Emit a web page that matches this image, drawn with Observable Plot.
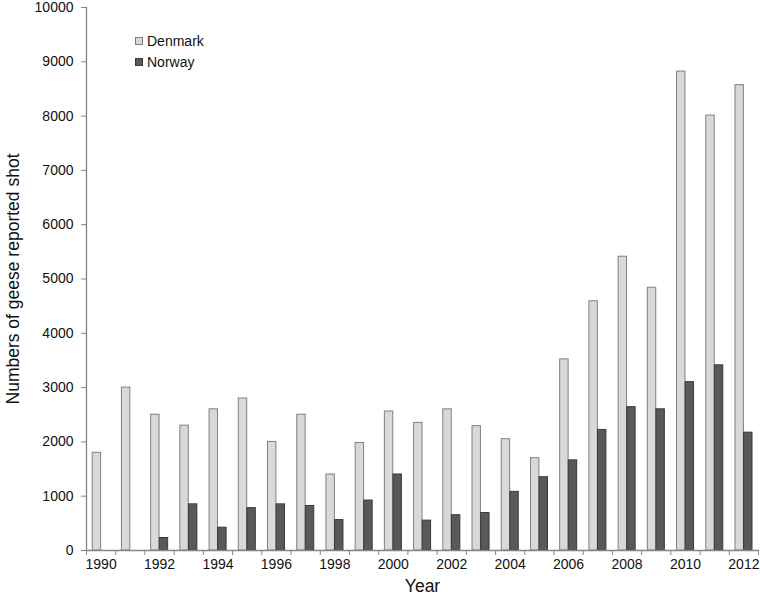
<!DOCTYPE html>
<html>
<head>
<meta charset="utf-8">
<script src="https://cdn.jsdelivr.net/npm/d3@7"></script>
<script src="https://cdn.jsdelivr.net/npm/@observablehq/plot@0.6"></script>
<style>
  html, body { margin: 0; padding: 0; background: #fff; }
  #wrap { position: relative; width: 760px; height: 597px; font-family: "Liberation Sans", Arial, sans-serif; }
  #legend { position: absolute; left: 135px; top: 31px; font-size: 14px; color: #111; line-height: 21px; }
  #legend .sw { display: inline-block; width: 6px; height: 6px; margin-right: 4px; vertical-align: 1px; }
</style>
</head>
<body>
<div id="wrap">
  <div id="chart"></div>
  <div id="legend">
    <div><span class="sw" style="background:#d9d9d9;border:1px solid #808080"></span>Denmark</div>
    <div><span class="sw" style="background:#595959;border:1px solid #3a3a3a"></span>Norway</div>
  </div>
</div>
<script>
const years = [1990,1991,1992,1993,1994,1995,1996,1997,1998,1999,2000,2001,2002,2003,2004,2005,2006,2007,2008,2009,2010,2011,2012];
const denmark = [1800,3000,2500,2300,2600,2800,2000,2500,1400,1980,2560,2350,2600,2290,2050,1700,3520,4590,5410,4840,8820,8010,8570];
const norway  = [null,null,230,850,420,780,850,820,560,920,1400,550,650,690,1080,1350,1660,2220,2640,2600,3100,3410,2170];
const yTicks = [0,1000,2000,3000,4000,5000,6000,7000,8000,9000,10000];
const xLabelYears = years.filter(y => y % 2 === 0);

const dk = years.map((year, i) => ({year, value: denmark[i]}));
const no = years.map((year, i) => ({year, value: norway[i]})).filter(d => d.value != null);
const bounds = years.map(y => y - 0.5).concat([years[years.length - 1] + 0.5]);

const chart = Plot.plot({
  width: 760,
  height: 597,
  marginLeft: 86,
  marginRight: 2,
  marginTop: 7,
  marginBottom: 47,
  style: {fontFamily: '"Liberation Sans", Arial, sans-serif', fontSize: "14px", color: "#111", background: "#fff", overflow: "visible"},
  x: {type: "linear", domain: [years[0] - 0.5, years[years.length - 1] + 0.5]},
  y: {domain: [0, 10000]},
  marks: [
    Plot.rectY(dk, {x1: d => d.year - 0.5, x2: d => d.year + 0.5, y1: d => 0, y2: "value",
      insetLeft: 6.2, insetRight: 14.6, fill: "#d9d9d9", stroke: "#808080", strokeWidth: 1}),
    Plot.rectY(no, {x1: d => d.year - 0.5, x2: d => d.year + 0.5, y1: d => 0, y2: "value",
      insetLeft: 14.8, insetRight: 6.0, fill: "#595959", stroke: "#3a3a3a", strokeWidth: 1}),
    Plot.frame({anchor: "left", stroke: "#868686", strokeWidth: 1.3}),
    Plot.frame({anchor: "bottom", stroke: "#868686", strokeWidth: 1.3}),
    Plot.axisY({ticks: yTicks, tickSize: 5, tickPadding: 8, tickFormat: d => String(d), stroke: "#868686", label: null}),
    Plot.axisX({ticks: bounds, tickSize: 5, tickFormat: () => "", stroke: "#868686", label: null}),
    Plot.axisX({ticks: xLabelYears, tickSize: 0, tickPadding: 9, tickFormat: d => String(d), label: null}),
    Plot.text(["Year"], {frameAnchor: "bottom", dy: 41, fontSize: 17.5, fill: "#111"}),
    Plot.text(["Numbers of geese reported shot"], {frameAnchor: "left", dx: -73, rotate: -90, textAnchor: "middle", fontSize: 17.5, fill: "#111"})
  ]
});
document.getElementById("chart").appendChild(chart);
</script>
</body>
</html>
